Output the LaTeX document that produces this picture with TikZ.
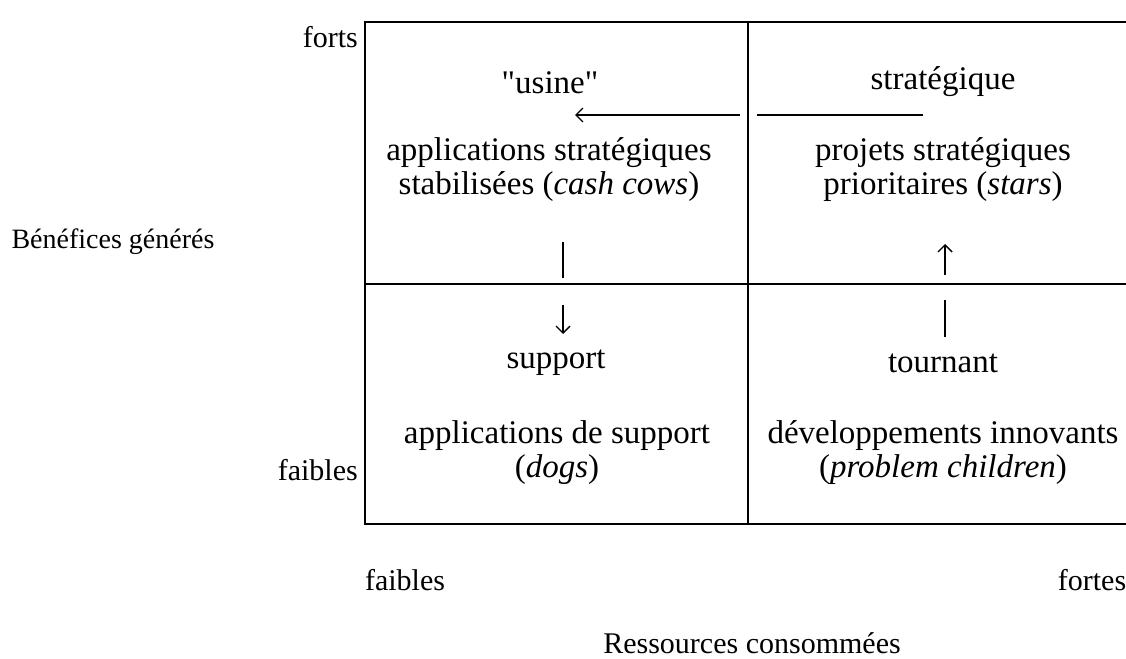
\documentclass[tikz,border=0pt]{standalone}
\usepackage{fontspec}
\setmainfont{Liberation Serif}
\newfontfamily\droit{Liberation Serif}
\usetikzlibrary{arrows.meta}

\begin{document}
\begin{tikzpicture}[x=1pt, y=-1pt, font=\fontsize{33}{34}\selectfont,
    every node/.style={inner sep=0pt, align=center},
    axe/.style={font=\fontsize{30}{34}\selectfont},
    cadre/.style={line width=2.2pt},
    trait/.style={line width=1.4pt},
    fleche/.style={line width=1.4pt, -{Straight Barb[length=7pt,width=14pt]}}]
\useasboundingbox (0,0) rectangle (1126,658);

% corners of the grid
\coordinate (no) at (365,22);
    \coordinate (ne) at (1126,22);
\coordinate (so) at (365,524);
    \coordinate (se) at (1126,524);
  \coordinate (nm) at (748,22);
  \coordinate (sm) at (748,524);
  \coordinate (mo) at (365,284);
  \coordinate (me) at (1126,284);

\draw[cadre] (ne) -- (no) -- (so) -- (se);
\draw[cadre] (mo) -- (me);
\draw[line width=1.6pt] (nm) -- (sm);

% axis labels
\node[axe, anchor=east] (forts) at (358,37) {forts};
\node[axe, anchor=east] (faiblesg) at (358,470) {faibles};
  \node[font=\fontsize{28}{32}\selectfont] (benef) at (113,242) {Bénéfices générés};
\node[axe] (faiblesb) at (405,580) {faibles};
  \node[axe] (fortes) at (1092,580) {fortes};
\node[axe] (ressources) at (752,643) {Ressources consommées};

% cells
\node (usine) at (550,83) {{\droit"usine"}};
\node (cows) at (549,170) {applications stratégiques\\stabilisées (\textit{cash cows})};
  \node (strat) at (943,82) {stratégique};
  \node (stars) at (943,170) {projets stratégiques\\prioritaires (\textit{stars})};
\node (support) at (556,363) {support};
\node (dogs) at (557,453) {applications de support\\(\textit{dogs})};
  \node (tournant) at (943,363) {tournant};
  \node (children) at (943,453) {développements innovants\\(\textit{problem children})};

% flows between the cells
\coordinate (h1) at (923,115);
\coordinate (h2) at (757,115);
\coordinate (h3) at (740,115);
\coordinate (h4) at (575,115);
   \draw[trait] (h1) -- (h2);
   \draw[fleche] (h3) -- (h4);
\coordinate (v1) at (563,242);
\coordinate (v2) at (563,278);
\coordinate (v3) at (563,305);
\coordinate (v4) at (563,334);
   \draw[trait] (v1) -- (v2);
   \draw[fleche] (v3) -- (v4);
\coordinate (w1) at (945,337);
\coordinate (w2) at (945,300);
\coordinate (w3) at (945,275);
\coordinate (w4) at (945,244);
   \draw[trait] (w1) -- (w2);
   \draw[fleche] (w3) -- (w4);
\end{tikzpicture}
\end{document}
